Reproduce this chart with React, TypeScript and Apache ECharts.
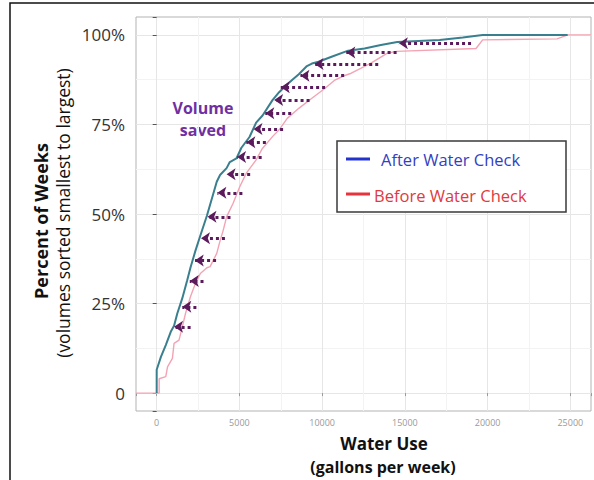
import React, { useEffect, useRef } from 'react';
import * as echarts from 'echarts';

// After Water Check (cumulative % of weeks vs gallons per week)
const afterGallons = [0, 0, 256, 550, 850, 1050, 1250, 1550, 1845, 2040, 2340, 2640, 3035, 3430, 3630, 3830, 4225, 4420, 4820, 5120, 5610, 6010, 6400, 7000, 7400, 7800, 8200, 8590, 9080, 9380, 9780, 10570, 11570, 12560, 13550, 14540, 17100, 18500, 19700, 24840];
const afterPercent = [0, 6.5, 10.1, 13.4, 17.1, 18.8, 22.3, 26.5, 31.5, 35, 39.7, 44, 49.5, 55.8, 59, 60.9, 62.8, 64.5, 65.5, 68.5, 71.5, 75.5, 77.5, 81.8, 84, 85.8, 87.5, 89, 91.3, 92, 92.5, 93.9, 95.6, 96.2, 97.2, 98.0, 98.6, 99.3, 100, 100];

// Before Water Check
const beforeGallons = [-1250, 150, 150, 550, 655, 950, 1050, 1350, 1550, 1745, 2040, 2340, 2640, 3035, 3230, 3630, 3830, 4025, 4225, 4620, 5020, 5420, 6010, 6390, 7000, 7400, 7890, 8590, 9380, 10180, 10770, 11330, 11760, 12360, 12950, 13450, 13945, 14500, 19300, 19500, 19700, 24200, 24850, 26250];
const beforePercent = [0, 0, 4, 4.6, 7.3, 9.7, 13.9, 14.8, 18.5, 22.3, 26.9, 30.6, 33.4, 35, 35.3, 39, 42.5, 45.5, 49.2, 53, 57.6, 61.4, 65.1, 68.3, 71.6, 73.5, 76.7, 79.5, 82.3, 85.1, 87.4, 88.6, 89.3, 90.7, 92.1, 93.5, 94.9, 95.4, 96.2, 97.4, 98.6, 98.9, 100, 100];

// "Volume saved" arrows: level, from (before) -> to (after)
const arrowPercent = [18.5, 24.1, 31.3, 37.0, 43.2, 49.2, 55.9, 61.1, 65.9, 70.0, 73.7, 78.1, 81.8, 85.4, 88.6, 91.9, 95.1, 97.7];
const arrowFromGallons = [2050, 2400, 2830, 3590, 4125, 4460, 5180, 5650, 6345, 6600, 7640, 8130, 9240, 10180, 11330, 13390, 14500, 19000];
const arrowToGallons = [1050, 1550, 2000, 2300, 2680, 3070, 3670, 4225, 4860, 5420, 5850, 6565, 7100, 7500, 8690, 9540, 11460, 14640];

const xTickValues = [0, 5000, 10000, 15000, 20000, 25000];
const yTickValues = [0, 25, 50, 75, 100];
const yTickLabels = ['0', '25%', '50%', '75%', '100%'];

const FONT = '"Open Sans", "Noto Sans", sans-serif';
const T = 'rgba(0,0,0,0)';
const MAJOR = '#e6e6e6';
const MINOR = '#f3f3f3';

export default function App() {
  const ref = useRef<HTMLDivElement>(null);
  useEffect(() => {
    if (!ref.current) return;
    const chart = echarts.init(ref.current, undefined, { renderer: 'svg' });
    const afterData = afterGallons.map((g, i) => [g, afterPercent[i]]);
    const beforeData = beforeGallons.map((g, i) => [g, beforePercent[i]]);
    const arrowData = arrowPercent.map((p, i) => ({
      coords: [[arrowFromGallons[i], p], [arrowToGallons[i], p]],
    }));
    chart.setOption({
      animation: false,
      backgroundColor: '#ffffff',
      grid: {
        left: 136, top: 17, width: 460, height: 394,
        show: true, borderColor: '#b3b3b3', borderWidth: 1, backgroundColor: '#fff',
      },
      xAxis: [
        {
          type: 'value', min: -1250, max: 26250, interval: 1250,
          axisLine: { show: false }, axisTick: { show: false }, axisLabel: { show: false },
          splitLine: { show: true, lineStyle: { color: [T, MAJOR, T, MINOR], width: 1 } },
        },
        {
          type: 'value', min: -1250, max: 26250, minInterval: 5000, maxInterval: 5000,
          position: 'bottom',
          axisLine: { show: false },
          axisTick: { show: true, length: 3, lineStyle: { color: '#999' } },
          splitLine: { show: false },
          axisLabel: {
            color: '#999', fontSize: 9, fontFamily: FONT, margin: 7,
            formatter: (v: number) => (xTickValues.indexOf(v) >= 0 ? String(v) : ''),
          },
        },
      ],
      yAxis: [
        {
          type: 'value', min: -5, max: 105, interval: 2.5,
          axisLine: { show: false }, axisTick: { show: false }, axisLabel: { show: false },
          splitLine: { show: true, lineStyle: { color: [T, T, MAJOR, T, T, T, T, MINOR, T, T], width: 1 } },
        },
        {
          type: 'value', min: -5, max: 105, minInterval: 25, maxInterval: 25,
          position: 'left',
          axisLine: { show: false },
          axisTick: { show: true, length: 4, lineStyle: { color: '#555' } },
          splitLine: { show: false },
          axisLabel: {
            color: '#333', fontSize: 17, fontFamily: FONT, margin: 11,
            formatter: (v: number) => {
              const k = yTickValues.indexOf(v);
              return k >= 0 ? yTickLabels[k] : '';
            },
          },
        },
      ],
      series: [
        {
          name: 'Before Water Check', type: 'line', data: beforeData,
          xAxisIndex: 0, yAxisIndex: 0, showSymbol: false, symbol: 'none',
          lineStyle: { color: '#f4a3b4', width: 1.4 }, z: 2,
        },
        {
          name: 'After Water Check', type: 'line', data: afterData,
          xAxisIndex: 0, yAxisIndex: 0, showSymbol: false, symbol: 'none',
          lineStyle: { color: '#3a7f8e', width: 2 }, z: 3,
        },
        {
          name: 'Volume saved', type: 'lines', coordinateSystem: 'cartesian2d',
          xAxisIndex: 0, yAxisIndex: 0,
          symbol: ['none', 'arrow'], symbolSize: 9,
          lineStyle: { color: '#5a1a5c', width: 3, type: [3, 3], opacity: 1, curveness: 0 },
          data: arrowData, z: 5,
        },
      ],
      graphic: [
        {
          type: 'rect', silent: true, z: -1,
          shape: { x: 10, y: 3, width: 600, height: 500 },
          style: { fill: 'transparent', stroke: '#111', lineWidth: 1.5 },
        },
        {
          type: 'text', x: 41, y: 221, rotation: Math.PI / 2,
          style: { text: 'Percent of Weeks', fill: '#111', font: `bold 18px ${FONT}`, align: 'center', verticalAlign: 'middle' },
        },
        {
          type: 'text', x: 63, y: 213, rotation: Math.PI / 2,
          style: { text: '(volumes sorted smallest to largest)', fill: '#111', font: `17.5px ${FONT}`, align: 'center', verticalAlign: 'middle' },
        },
        {
          type: 'text', x: 384, y: 443,
          style: { text: 'Water Use', fill: '#111', font: `bold 17px ${FONT}`, align: 'center', verticalAlign: 'middle' },
        },
        {
          type: 'text', x: 383, y: 467,
          style: { text: '(gallons per week)', fill: '#111', font: `bold 16px ${FONT}`, align: 'center', verticalAlign: 'middle' },
        },
        {
          type: 'text', x: 203, y: 108,
          style: { text: 'Volume', fill: '#7030a0', font: `bold 16px ${FONT}`, align: 'center', verticalAlign: 'middle' },
        },
        {
          type: 'text', x: 203, y: 130,
          style: { text: 'saved', fill: '#7030a0', font: `bold 16px ${FONT}`, align: 'center', verticalAlign: 'middle' },
        },
        {
          type: 'rect', z: 10,
          shape: { x: 337, y: 141, width: 229, height: 71 },
          style: { fill: '#fff', stroke: '#3a3a3a', lineWidth: 1.5 },
        },
        {
          type: 'line', z: 11,
          shape: { x1: 346, y1: 159, x2: 370, y2: 159 },
          style: { stroke: '#2233cc', lineWidth: 3 },
        },
        {
          type: 'text', z: 11, x: 381, y: 159,
          style: { text: 'After Water Check', fill: '#3341c0', font: `16.5px ${FONT}`, align: 'left', verticalAlign: 'middle' },
        },
        {
          type: 'line', z: 11,
          shape: { x1: 346, y1: 194, x2: 370, y2: 194 },
          style: { stroke: '#e8323c', lineWidth: 3 },
        },
        {
          type: 'text', z: 11, x: 374, y: 195,
          style: { text: 'Before Water Check', fill: '#e03a3e', font: `16.5px ${FONT}`, align: 'left', verticalAlign: 'middle' },
        },
      ],
    });
    return () => chart.dispose();
  }, []);
  return (
    <div
      ref={ref}
      style={{ position: 'absolute', left: 0, top: 0, width: 594, height: 480, background: '#fff' }}
    />
  );
}
